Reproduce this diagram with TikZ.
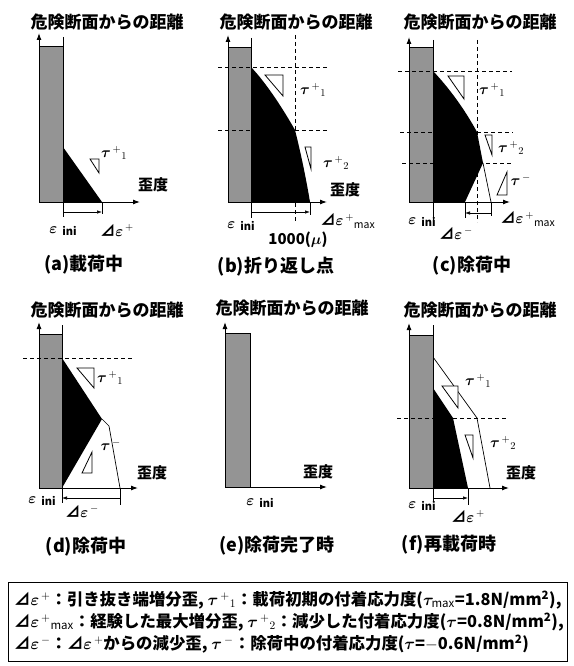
\RequirePackage{fix-cm}
\documentclass[tikz,border=0pt]{standalone}
\usepackage{fontspec}
\setmainfont{Noto Sans CJK JP}
\usepackage{bm}
\usetikzlibrary{arrows.meta}
\newcommand\epsIni{$\bm{\varepsilon}$\hspace{5pt}\raisebox{-2pt}{\fontsize{11}{11}\selectfont ini}}
\newcommand\tauLbl[2]{$\bm{\tau}^{\,#1}{}_{#2}$}
\newcommand\dEps[1]{⊿$\bm{\varepsilon}^{\,#1}$}
\newcommand\dEpsMax{⊿$\bm{\varepsilon}^{\,+}{}_{\mathrm{max}}$}
\begin{document}
\begin{tikzpicture}[x=1pt,y=-1pt,
  axisarr/.style={draw=black,line width=1pt,-{Latex[length=7pt,width=5pt]}},
  bar/.style={draw=black,line width=1pt,fill=black!42},
  dsh/.style={draw=black,dash pattern=on 4pt off 3pt,line width=0.8pt},
  thinln/.style={draw=black,line width=0.7pt},
  dimline/.style={draw=black,line width=0.7pt,-{Latex[length=5pt,width=3.5pt]}},
  tri/.style={draw=black,line width=0.8pt,fill=white},
  ttl/.style={inner sep=0pt,font=\fontsize{17}{19}\selectfont\bfseries},
  captxt/.style={inner sep=0pt,font=\fontsize{18}{20}\selectfont\bfseries},
  lbl/.style={inner sep=0pt,font=\fontsize{15}{17}\selectfont\bfseries},
  leg/.style={inner sep=0pt,anchor=west,font=\fontsize{16.4}{18}\selectfont\bfseries}]
\useasboundingbox (0,0) rectangle (573,666);
\fill[white] (0,0) rectangle (573,666);

% ---------- (a)
\node[ttl] (ta) at (107,22) {危険断面からの距離};
\fill[black] (63,147) -- (102,202) -- (63,202) -- cycle;
\draw[bar] (39,47) rectangle (63,202);
\draw[thinln] (63,37) -- (63,47) (63,202) -- (63,217) (102,202) -- (102,214);
\coordinate (oa) at (39,202); \coordinate (ya) at (39,33); \coordinate (xa) at (140,202);
\draw[axisarr] (oa) -- (ya);
\draw[axisarr] (oa) -- (xa);
\coordinate (a1) at (63,212); \coordinate (a2) at (102,212);
\draw[dimline] (a1) -- (a2);
\draw[tri] (90,159) -- (99,159) -- (99,173) -- cycle;
\node[lbl] (la1) at (114,153) {\tauLbl{+}{1}};
\node[lbl] (la2) at (153,185) {歪度};
\node[lbl] (la3) at (63,231) {\epsIni};
\node[lbl] (la4) at (117,230) {\dEps{+}};
\node[captxt] (ca) at (84,265) {(a)載荷中};

% ---------- (b)
\node[ttl] (tb) at (296,22) {危険断面からの距離};
\fill[black] (251,67) .. controls (267,84) and (283,109) .. (295,130)
  .. controls (301,154) and (306,178) .. (310,202) -- (251,202) -- cycle;
\draw[bar] (228,48) rectangle (251,202);
\draw[dsh] (218,67) -- (328,67) (218,130) -- (328,130) (295,35) -- (295,222);
\draw[thinln] (251,38) -- (251,48) (251,202) -- (251,218) (310,202) -- (310,215);
\coordinate (ob) at (228,202); \coordinate (yb) at (228,35); \coordinate (xb) at (327,202);
\draw[axisarr] (ob) -- (yb);
\draw[axisarr] (ob) -- (xb);
\coordinate (b1) at (251,212); \coordinate (b2) at (310,212);
\draw[dimline] (b1) -- (b2);
\draw[tri] (265,75) -- (283,75) -- (283,96) -- cycle;
\draw[tri] (305,147) -- (311,147) -- (311,169) -- cycle;
\node[lbl] (lb1) at (313,90) {\tauLbl{+}{1}};
\node[lbl] (lb2) at (336,163) {\tauLbl{+}{2}};
\node[lbl] (lb3) at (345,190) {歪度};
\node[lbl] (lb4) at (241,226) {\epsIni};
\node[lbl] (lb5) at (348,221) {\dEpsMax};
\node[lbl] (lb6) at (298,240) {1000($\bm{\mu}$)};
\node[captxt] (cb) at (276,267) {(b)折り返し点};

% ---------- (c)
\node[ttl] (tc) at (480,22) {危険断面からの距離};
\fill[black] (433,71) .. controls (450,89) and (465,110) .. (477,132)
  -- (483,163) -- (465,202) -- (433,202) -- cycle;
\draw[thinln] (483,163) -- (491,202);
\draw[bar] (409,48) rectangle (433,202);
\draw[dsh] (398,71) -- (512,71) (400,132) -- (513,132) (402,163) -- (512,163) (477,40) -- (477,222);
\draw[thinln] (433,40) -- (433,48) (433,202) -- (433,220) (465,202) -- (465,218) (491,202) -- (491,216);
\coordinate (oc) at (409,202); \coordinate (yc) at (409,37); \coordinate (xc) at (510,202);
\draw[axisarr] (oc) -- (yc);
\draw[axisarr] (oc) -- (xc);
\coordinate (c1) at (491,213); \coordinate (c2) at (465,213);
\draw[dimline] (c1) -- (c2);
\draw[tri] (448,76) -- (464,76) -- (464,99) -- cycle;
\draw[tri] (485,135) -- (492,135) -- (492,155) -- cycle;
\draw[tri] (497,195) -- (507,195) -- (507,172) -- cycle;
\node[lbl] (lc1) at (492,90) {\tauLbl{+}{1}};
\node[lbl] (lc2) at (511,148) {\tauLbl{+}{2}};
\node[lbl] (lc3) at (521,181) {\tauLbl{-}{}};
\node[lbl] (lc4) at (422,222) {\epsIni};
\node[lbl] (lc5) at (528,219) {\dEpsMax};
\node[lbl] (lc6) at (456,233) {\dEps{-}};
\node[captxt] (cc) at (472,266) {(c)除荷中};

% ---------- (d)
\node[ttl] (td) at (107,310) {危険断面からの距離};
\fill[black] (62,358) -- (102,419) -- (62,488) -- cycle;
\draw[thinln] (102,419) -- (109,426) -- (120,488);
\draw[bar] (39,334) rectangle (62,488);
\draw[dsh] (23,358) -- (132,358);
\draw[thinln] (62,325) -- (62,334) (62,488) -- (62,503) (120,488) -- (120,505);
\coordinate (od) at (39,488); \coordinate (yd) at (39,322); \coordinate (xd) at (138,488);
\draw[axisarr] (od) -- (yd);
\draw[axisarr] (od) -- (xd);
\coordinate (d1) at (120,498); \coordinate (d2) at (62,498);
\draw[dimline] (d1) -- (d2);
\draw[tri] (77,368) -- (94,368) -- (94,388) -- cycle;
\draw[tri] (82,473) -- (92,473) -- (92,452) -- cycle;
\node[lbl] (ld1) at (110,378) {\tauLbl{+}{1}};
\node[lbl] (ld2) at (111,446) {\tauLbl{-}{}};
\node[lbl] (ld3) at (152,473) {歪度};
\node[lbl] (ld4) at (42,501) {\epsIni};
\node[lbl] (ld5) at (82,511) {\dEps{-}};
\node[captxt] (cd) at (86,547) {(d)除荷中};

% ---------- (e)
\node[ttl] (te) at (292,308) {危険断面からの距離};
\draw[bar] (225,333) rectangle (250,487);
\coordinate (oe) at (225,487); \coordinate (ye) at (225,322); \coordinate (xe) at (327,487);
\draw[axisarr] (oe) -- (ye);
\draw[axisarr] (oe) -- (xe);
\node[lbl] (le1) at (318,472) {歪度};
\node[lbl] (le2) at (260,503) {\epsIni};
\node[captxt] (ce) at (277,546) {(e)除荷完了時};

% ---------- (f)
\node[ttl] (tf) at (480,310) {危険断面からの距離};
\fill[black] (433,388) -- (453,418) -- (468,488) -- (433,488) -- cycle;
\draw[thinln] (433,357) -- (477,418) -- (490,488);
\draw[bar] (409,335) rectangle (433,488);
\draw[dsh] (397,418) -- (508,418);
\draw[thinln] (433,325) -- (433,335) (433,488) -- (433,502) (468,488) -- (468,505);
\coordinate (of) at (409,488); \coordinate (yf) at (409,323); \coordinate (xf) at (509,488);
\draw[axisarr] (of) -- (yf);
\draw[axisarr] (of) -- (xf);
\coordinate (f1) at (433,498); \coordinate (f2) at (468,498);
\draw[dimline] (f1) -- (f2);
\draw[tri] (442,386) -- (458,386) -- (458,408) -- cycle;
\draw[tri] (465,435) -- (473,435) -- (473,458) -- cycle;
\node[lbl] (lf1) at (478,381) {\tauLbl{+}{1}};
\node[lbl] (lf2) at (503,443) {\tauLbl{+}{2}};
\node[lbl] (lf3) at (521,473) {歪度};
\node[lbl] (lf4) at (422,506) {\epsIni};
\node[lbl] (lf5) at (468,516) {\dEps{+}};
\node[captxt] (cf) at (449,545) {(f)再載荷時};

% ---------- legend
\node[draw,line width=1pt,minimum width=559pt,minimum height=79pt,inner sep=0pt] (box) at (287.5,621.5) {};
\node[leg] (g1) at (14,600) {\dEps{+}：引き抜き端増分歪, \tauLbl{+}{1}：載荷初期の付着応力度($\bm{\tau}_{\mathrm{max}}$=1.8N/mm\textsuperscript{2}),};
\node[leg] (g2) at (14,622) {\dEpsMax：経験した最大増分歪, \tauLbl{+}{2}：減少した付着応力度($\bm{\tau}$=0.8N/mm\textsuperscript{2}),};
\node[leg] (g3) at (14,644) {\dEps{-}：\dEps{+}からの減少歪, \tauLbl{-}{}：除荷中の付着応力度($\bm{\tau}$=$-$0.6N/mm\textsuperscript{2})};
\end{tikzpicture}
\end{document}
